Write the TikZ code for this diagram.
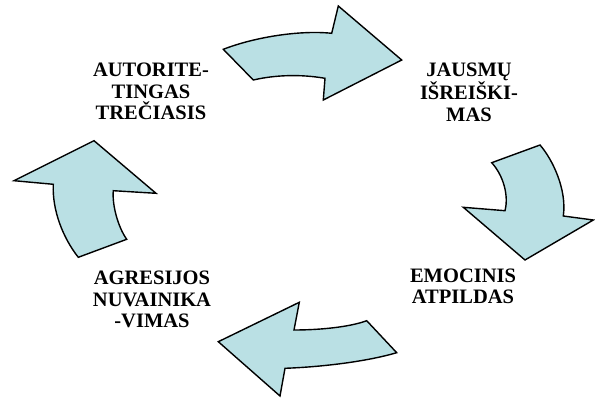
\documentclass[tikz,border=0pt]{standalone}
\usepackage{fontspec}
\setmainfont{Liberation Serif}
\definecolor{arrowfill}{RGB}{186,224,228}
\begin{document}
\begin{tikzpicture}[x=1pt,y=-1pt,
  cyclearrow/.style={draw=black, line width=1.4pt, line join=miter, fill=arrowfill},
  stage/.style={align=center, inner sep=0pt, anchor=north,
    font=\bfseries\fontsize{20.5}{21.5}\selectfont}]
  \useasboundingbox (0,0) rectangle (595,398);

  % stage labels
  \node[stage] (auth) at (151,62.8) {AUTORITE-\\TINGAS\\TREČIASIS};
  \node[stage] (feel) at (469,62.8) {JAUSMŲ\\IŠREIŠKI-\\MAS};
  \node[stage] (emo)  at (463,268.5) {EMOCINIS\\ATPILDAS};
  \node[stage] (agr)  at (152,271) {AGRESIJOS\\NUVAINIKA\\-VIMAS};

  % top arrow, pointing right
  \draw[cyclearrow] (223.3,49.3) .. controls (255,37) and (300,30) .. (331.7,33.3)
    -- (338.3,6) -- (401.7,60) -- (323.3,100) -- (325,78.3)
    .. controls (300,74) and (275,75) .. (253.3,80) -- cycle;

  % right arrow, pointing down
  \draw[cyclearrow] (491.7,162.7) -- (540,145)
    .. controls (553,160) and (567,190) .. (563.3,216)
    -- (593.3,220) -- (525,260) -- (463.3,207.3) -- (505,210.7)
    .. controls (509,195) and (503,175) .. cycle;

  % bottom arrow, pointing left
  \draw[cyclearrow] (366.7,320.7) -- (396.7,352.7)
    .. controls (365,362) and (320,367) .. (285,368.3)
    -- (280,396) -- (218.3,341.7) -- (299.3,302.3) -- (294,330)
    .. controls (320,330) and (350,327) .. cycle;

  % left arrow, pointing up
  \draw[cyclearrow] (78.3,257.3) -- (126.7,239.3)
    .. controls (118,227) and (112,205) .. (113.3,190.7)
    -- (156,193.3) -- (94,140.7) -- (14,180.7) -- (53.3,184.3)
    .. controls (52,210) and (63,238) .. cycle;
\end{tikzpicture}
\end{document}
